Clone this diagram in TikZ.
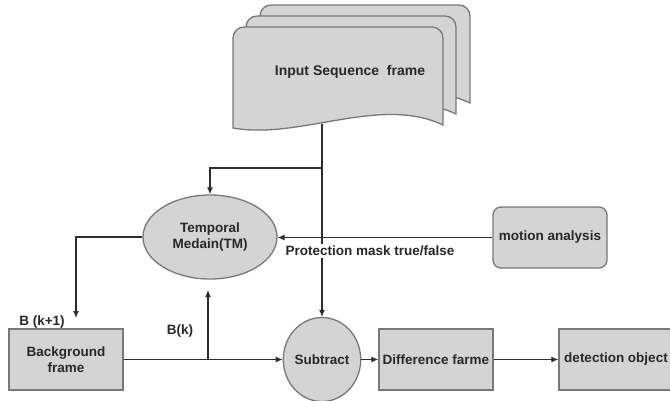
\documentclass[tikz,border=0pt]{standalone}
\usepackage{fontspec}
\setmainfont{Liberation Sans}
\usetikzlibrary{shapes.geometric,arrows.meta}
\definecolor{boxfill}{RGB}{212,212,212}
\definecolor{boxline}{RGB}{120,120,120}
\definecolor{conn}{RGB}{45,45,45}
\definecolor{txt}{RGB}{40,40,40}
\tikzset{
  lbl/.style={font=\fontsize{13.5}{15.5}\selectfont\bfseries, text=txt, inner sep=1pt},
  procbox/.style={draw=boxline, fill=boxfill, line width=1.3pt, minimum width=114pt, minimum height=61pt, inner sep=0pt, align=center, font=\fontsize{13.5}{15.5}\selectfont\bfseries, text=txt},
  ovalbox/.style={ellipse, draw=boxline, fill=boxfill, line width=1.3pt, inner sep=0pt, align=center, font=\fontsize{13.5}{15.5}\selectfont\bfseries, text=txt},
  docpage/.style={draw=boxline, fill=boxfill, line width=1.3pt},
  link/.style={draw=conn, line width=1.1pt, -{Latex[length=7pt,width=6pt]}},
}
\begin{document}
\begin{tikzpicture}[x=1pt,y=-1pt]
\useasboundingbox (0,0) rectangle (670,400);
\clip (0,0) rectangle (670,400);
% document stack
\foreach \dx/\dy in {27/-22, 13/-11, 0/0}{
  \begin{scope}[shift={(\dx,\dy)}]
  \path[docpage] (233,128) [rounded corners=11pt] -- (233,27) -- (443,27) [sharp corners] -- (443,125)
     .. controls (380,95) and (300,140) .. (233,128) -- cycle;
  \end{scope}
}
\node[lbl, font=\fontsize{14}{16}\selectfont\bfseries] (doc) at (350,72) {Input Sequence\ \ frame};

% nodes
\node[ovalbox, minimum width=134pt, minimum height=84pt] (tm) at (210,237) {Temporal\\Medain(TM)};
\node[procbox, rounded corners=8pt] (motion) at (550,237.5) {motion analysis};
\node[procbox] (bg) at (66,359.5) {Background\\frame};
\node[ovalbox, minimum width=58pt, minimum height=84pt] (sub) at (322,359.5) {Subtract};
\node[procbox] (diff) at (436,359.5) {Difference farme};
\node[procbox] (det) at (616,359.5) {detection object};

% coordinates
\coordinate (docbot) at (322,124);
\coordinate (split) at (322,168);
\coordinate (bkin) at (76,318);
\coordinate (bksplit) at (208,359.5);
\coordinate (bkup) at (208,290);

% connectors
\draw[link] (docbot) -- (sub.north);
\draw[link] (split) -| (tm.north);
\draw[link] (motion.west) -- (motion.west -| tm.east);
\draw[link] (tm.west) -| (bkin);
\draw[link] (bg.east) -- (sub.west);
\draw[link] (bksplit) -- (bkup);
\draw[link] (sub.east) -- (diff.west);
\draw[link] (diff.east) -- (det.west);

% labels
\node[lbl, fill=white, inner sep=1.5pt] (mask) at (370,251) {Protection mask true/false};
\node[lbl] (bk1) at (42,322) {B (k+1)};
\node[lbl] (bk) at (180,331) {B(k)};
\end{tikzpicture}
\end{document}
